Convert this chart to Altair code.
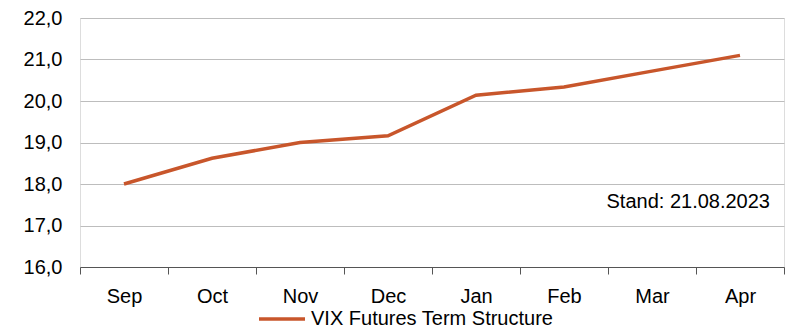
import altair as alt
import pandas as pd

months = ["Sep", "Oct", "Nov", "Dec", "Jan", "Feb", "Mar", "Apr"]
futures = [18.0, 18.62, 19.0, 19.16, 20.14, 20.34, 20.72, 21.1]
series_name = "VIX Futures Term Structure"
stamp = "Stand: 21.08.2023"

df = pd.DataFrame({"month": months, "value": futures, "series": series_name})

FONT = "Liberation Sans"
FS = 20
LINE_COLOR = "#C8562B"

base = alt.Chart(df)

line = base.mark_line(strokeWidth=3.5).encode(
    x=alt.X(
        "month:N",
        sort=months,
        scale=alt.Scale(paddingInner=0, paddingOuter=0),
        axis=alt.Axis(
            title=None,
            labelAngle=0,
            tickBand="extent",
            tickSize=7,
            tickColor="#555555",
            domainColor="#555555",
            labelFontSize=FS,
            labelFont=FONT,
            labelColor="#000000",
            labelPadding=12,
            grid=False,
        ),
    ),
    y=alt.Y(
        "value:Q",
        scale=alt.Scale(domain=[16, 22], nice=False, zero=False),
        axis=alt.Axis(
            title=None,
            values=[16, 17, 18, 19, 20, 21, 22],
            labelExpr="replace(format(datum.value, '.1f'), '.', ',')",
            labelFontSize=FS,
            labelFont=FONT,
            labelColor="#000000",
            labelPadding=18,
            domain=False,
            ticks=False,
            grid=True,
            gridColor="#BDBDBD",
            gridWidth=1.2,
        ),
    ),
    color=alt.Color(
        "series:N",
        scale=alt.Scale(range=[LINE_COLOR]),
        legend=alt.Legend(
            title=None,
            orient="none",
            legendX=177,
            legendY=276,
            symbolType="stroke",
            symbolSize=2116,
            symbolStrokeWidth=3.5,
            labelFontSize=FS,
            labelFont=FONT,
            labelColor="#000000",
            labelOffset=4,
            labelLimit=0,
            padding=0,
        ),
    ),
)

note = alt.Chart(pd.DataFrame({"t": [stamp]})).mark_text(
    align="right", baseline="middle", fontSize=FS, font=FONT, color="#000000"
).encode(x=alt.value(690), y=alt.value(184), text="t:N")

chart = (
    alt.layer(line, note)
    .properties(
        width=704,
        height=249,
        autosize=alt.AutoSizeParams(type="none"),
        padding={"left": 80, "top": 18, "right": 5, "bottom": 62},
    )
    .configure_view(stroke=None)
    .configure(background="#FFFFFF")
)

chart.save("out.html", embed_options={"renderer": "svg", "actions": False})
